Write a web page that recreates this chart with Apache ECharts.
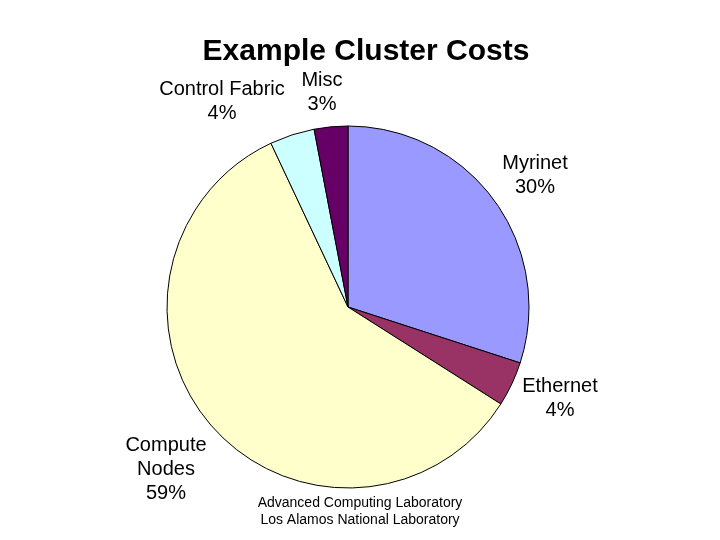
<!DOCTYPE html>
<html>
<head>
<meta charset="utf-8">
<script src="https://cdn.jsdelivr.net/npm/echarts@6/dist/echarts.min.js"></script>
<style>
  html, body { margin: 0; padding: 0; background: #fff; }
  #main { width: 720px; height: 540px; }
</style>
</head>
<body>
<div id="main"></div>
<script>
// Datos de la grafica
const categorias = ['Myrinet', 'Ethernet', 'Compute Nodes', 'Control Fabric', 'Misc'];
const valores = [30, 4, 59, 4, 3];
const colores = ['#9999FF', '#993366', '#FFFFCC', '#CCFFFF', '#660066'];

// Posicion de cada etiqueta (centro del texto)
const posEtiquetas = [[535, 175], [560, 398], [166, 469], [222, 101], [322, 92]];

const myChart = echarts.init(document.getElementById('main'));

let option = {
    backgroundColor: '#ffffff',
    title: [
        {
            text: 'Example Cluster Costs',
            left: 361,
            top: 32,
            textAlign: 'center',
            textStyle: {
                fontFamily: 'Liberation Sans',
                fontWeight: 'bold',
                fontSize: 30,
                color: '#000'
            }
        },
        {
            text: 'Advanced Computing Laboratory\nLos Alamos National Laboratory',
            left: 355,
            top: 490,
            textAlign: 'center',
            textStyle: {
                fontFamily: 'Liberation Sans',
                fontWeight: 'normal',
                fontSize: 14,
                lineHeight: 17,
                color: '#000'
            }
        }
    ],
    series: [
        {
            type: 'pie',
            center: [348, 307],
            radius: [0, 181],
            startAngle: 90,
            clockwise: true,
            animation: false,
            avoidLabelOverlap: false,
            itemStyle: {
                borderColor: '#000',
                borderWidth: 1
            },
            label: {
                show: true,
                position: 'outside',
                fontFamily: 'Liberation Sans',
                fontSize: 20,
                lineHeight: 24,
                color: '#000',
                align: 'center',
                formatter: function (params) {
                    let nombre = params.name === 'Compute Nodes' ? 'Compute\nNodes' : params.name;
                    return nombre + '\n' + params.value + '%';
                }
            },
            labelLine: { show: false },
            labelLayout: function (params) {
                const p = posEtiquetas[params.dataIndex];
                return { x: p[0], y: p[1], align: 'center', verticalAlign: 'middle' };
            },
            emphasis: { disabled: true },
            data: categorias.map((nombre, i) => ({
                name: nombre,
                value: valores[i],
                itemStyle: { color: colores[i] }
            }))
        }
    ]
};

myChart.setOption(option);
</script>
</body>
</html>
